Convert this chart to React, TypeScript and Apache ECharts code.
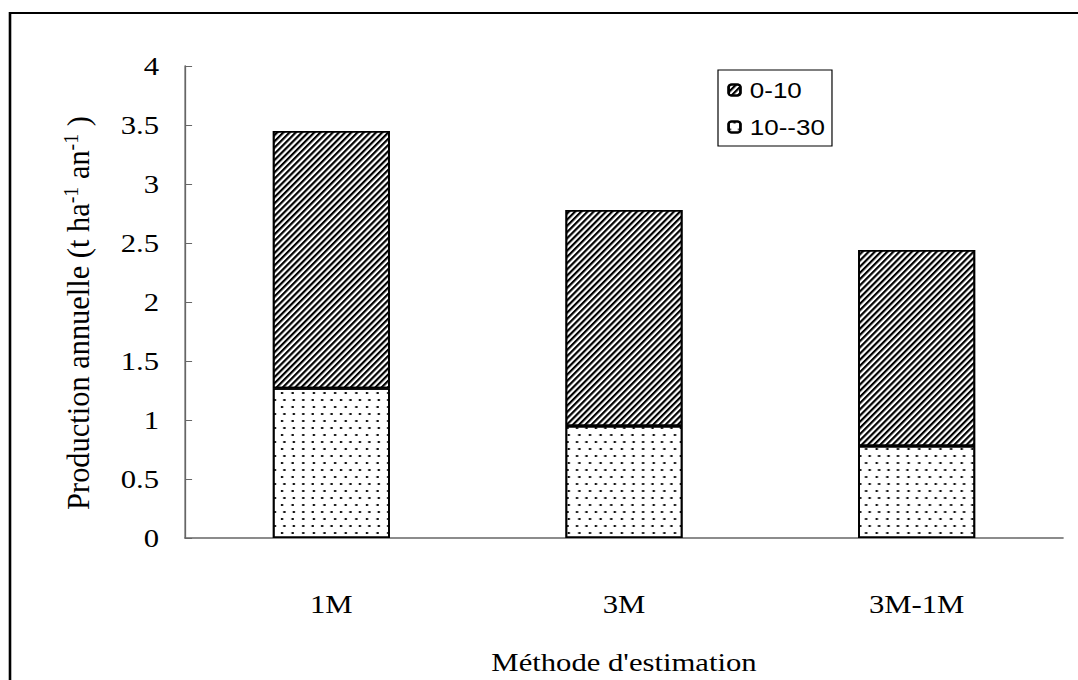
import React, { useEffect, useRef } from "react";
import * as echarts from "echarts";

const categories = ["1M", "3M", "3M-1M"];
const seriesNames = ["0-10", "10--30"];
const deep = [1.27, 0.95, 0.78]; // 10--30
const surface = [2.18, 1.83, 1.66]; // 0-10 (stacked on top)
const yMin = 0;
const yMax = 4;
const yInterval = 0.5;
const yTitle = "Production annuelle (t ha{sup|-1} an{sup|-1} )";
const xTitle = "Méthode d'estimation";

const serif = "'Liberation Serif', 'Times New Roman', serif";
const sans = "'Liberation Sans', Arial, sans-serif";

// the reference picture is stretched horizontally; reproduce with a CSS scaleX
const SX = 1.18;
const W = 1078 / SX;
const H = 680;

export default function App() {
  const ref = useRef<HTMLDivElement>(null);
  useEffect(() => {
    document.body.style.margin = "0";
    const chart = echarts.init(ref.current!, null, { renderer: "svg", width: W, height: H });
    const hatch = {
      symbol: "rect",
      symbolSize: 1,
      color: "#000",
      dashArrayX: [1, 0],
      dashArrayY: [1.3, 1.5],
      rotation: -0.87,
    };
    const dots = {
      symbol: "rect",
      symbolSize: 1,
      color: "#111",
      dashArrayX: [
        [1.2, 5.3],
        [0, 3.25, 1.2, 2.05],
      ],
      dashArrayY: [1.2, 4.3],
      rotation: 0,
    };
    chart.setOption({
      animation: false,
      backgroundColor: "#fff",
      graphic: [
        {
          type: "rect",
          shape: { x: 10 / SX, y: 13, width: 1200, height: 800 },
          style: { fill: "none", stroke: "#000", lineWidth: 2.2 },
          silent: true,
          z: 100,
        },
        {
          type: "text",
          x: 67,
          y: 313,
          rotation: Math.PI / 2,
          scaleX: 1.17,
          silent: true,
          style: {
            text: yTitle,
            fontFamily: serif,
            fontSize: 26,
            fill: "#000",
            align: "center",
            verticalAlign: "middle",
            rich: {
              sup: {
                fontFamily: serif,
                fontSize: 17,
                fill: "#000",
                padding: [0, 0, 14, 0],
              },
            },
          },
        },
      ],
      legend: {
        orient: "vertical",
        left: 718 / SX,
        top: 70,
        data: seriesNames,
        backgroundColor: "#fff",
        borderColor: "#000",
        borderWidth: 1,
        padding: [9, 6, 8, 8],
        itemGap: 15,
        itemWidth: 10,
        itemHeight: 11,
        textStyle: { fontFamily: sans, fontSize: 22, color: "#000", padding: [0, 0, 0, 3] },
      },
      grid: { left: 185 / SX, top: 66, right: W - 1063 / SX, bottom: 142, containLabel: false },
      xAxis: {
        type: "category",
        data: categories,
        boundaryGap: true,
        name: xTitle,
        nameLocation: "middle",
        nameGap: 111,
        nameTextStyle: { fontFamily: serif, fontSize: 26, color: "#000" },
        axisLine: { lineStyle: { color: "#666", width: 1.5 } },
        axisTick: { inside: true, length: 6, lineStyle: { color: "#666" } },
        axisLabel: { fontFamily: serif, fontSize: 26, color: "#000", margin: 53 },
        splitLine: { show: false },
      },
      yAxis: {
        type: "value",
        min: yMin,
        max: yMax,
        interval: yInterval,
        axisLine: { show: true, lineStyle: { color: "#666", width: 1.5 } },
        axisTick: { show: true, inside: true, length: 6, lineStyle: { color: "#666" } },
        axisLabel: { fontFamily: serif, fontSize: 26, color: "#000", margin: 22 },
        splitLine: { show: false },
      },
      series: [
        {
          name: "10--30",
          type: "bar",
          stack: "total",
          data: deep,
          barWidth: "40%",
          itemStyle: { color: "#fff", borderColor: "#000", borderWidth: 1.5, decal: dots },
        },
        {
          name: "0-10",
          type: "bar",
          stack: "total",
          data: surface,
          barWidth: "40%",
          itemStyle: { color: "#fff", borderColor: "#000", borderWidth: 1.5, decal: hatch },
        },
      ],
    });
    return () => chart.dispose();
  }, []);
  return (
    <div
      ref={ref}
      style={{ width: W, height: H, transform: `scaleX(${SX})`, transformOrigin: "0 0" }}
    />
  );
}
